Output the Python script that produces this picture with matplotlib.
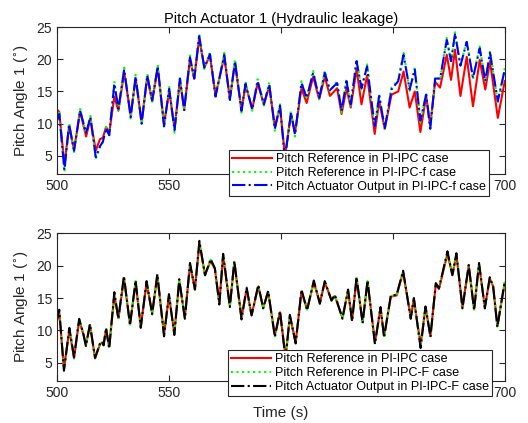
import matplotlib
matplotlib.use('Agg')
import matplotlib.pyplot as plt

plt.rcParams['font.family'] = ['Liberation Sans', 'DejaVu Sans']

# ---- top panel (hydraulic leakage) ----
t_top = [500, 501, 503.3, 505.4, 507.6, 510.3, 513, 514.9, 517.3, 519.2, 520.5, 521.9, 523.3,
         525.6, 527.4, 530, 532.9, 535.1, 537.8, 540.3, 542.5, 545, 547.8, 550.1, 552.5, 554.9,
         556.8, 559.4, 561.3, 563.5, 565.8, 568.3, 570.8, 574.7, 577.2, 579.5, 582.4, 584.2,
         587.2, 589.6, 592.4, 594.8, 597.3, 599.6, 601.8, 604.5, 606.3, 609.2, 611.5, 614.4,
         617.1, 619.6, 621.9, 625.1, 627.1, 629.3, 631.2, 633.8, 636, 638.5, 641.9, 643.9,
         646.4, 649.4, 652.4, 654.8, 657.5, 659.8, 662.3, 664.9, 666.7, 668.9, 671.1, 674.1,
         676, 677.8, 680.2, 683, 685.8, 688.8, 691.3, 693.4, 696.9, 700]
ref_ipc_top = [12.2, 11.8, 3.6, 9.6, 5.9, 11.9, 8, 10.8, 5.8, 7.6, 7.8, 9.5, 8.5,
               14.2, 12, 18, 11.3, 17, 10.3, 17.2, 13.5, 18.6, 9.9, 15.1, 9.3, 16.7,
               12.2, 20, 17, 23.3, 18.7, 20.6, 14.4, 20.4, 13.9, 19.4, 12, 16,
               12.3, 16.3, 13, 15.8, 9.5, 12.6, 5, 11.5, 8.6, 15.5, 13.2, 17.3,
               13.8, 17.3, 14.3, 15.5, 11.5, 15.5, 12.5, 18.5, 13, 17.5, 8.4, 13.5,
               9.2, 14.5, 15, 18.1, 12.5, 15, 8.7, 14.3, 9.7, 16.5, 15.6, 20.7,
               16.8, 21.5, 14.3, 20.4, 12.7, 19.9, 15.3, 19.7, 10.9, 16.6]
ref_f_top = [10.8, 11.7, 2.5, 10.1, 5.6, 12.3, 8.4, 11.2, 4.5, 6.3, 7.1, 9.5, 8,
             16.6, 12.1, 18.7, 10.8, 17.6, 9.8, 17.8, 13.4, 19.2, 9.3, 15.7, 8.6, 17.3,
             11.9, 20.6, 16.8, 23.9, 18.5, 21.1, 14, 21, 13.5, 20, 11.7, 16.5,
             12, 16.9, 12.8, 16.4, 8.9, 13, 4.2, 12, 8, 16.6, 13.8, 18.2,
             13.8, 18.2, 15, 16.6, 11.7, 16.9, 12.8, 20, 15.3, 19.2, 9.3, 14.6,
             9, 15.6, 16.8, 21, 15.1, 18.7, 10.2, 14.8, 8.9, 17.3, 16.8, 23.3,
             19.5, 24.2, 18.8, 23, 16.9, 22, 16.4, 21.3, 13.2, 18.6]
act_f_top = [10.5, 11.5, 2.8, 9.9, 5.8, 12, 8.6, 11, 4.8, 6.5, 7.2, 9.3, 8.2,
             16.2, 12.3, 18.4, 11, 17.3, 10, 17.5, 13.6, 18.9, 9.6, 15.4, 9, 17,
             12.1, 20.3, 17, 23.6, 18.7, 20.8, 14.2, 20.7, 13.7, 19.7, 12, 16.2,
             12.2, 16.6, 13, 16.1, 9.2, 12.8, 4.5, 11.7, 8.3, 16.3, 14, 17.9,
             14, 17.9, 15.2, 16.3, 12, 16.6, 13, 19.7, 15.5, 18.9, 9.6, 14.3,
             9.3, 15.3, 16.6, 20.7, 15.3, 18.4, 10.5, 14.5, 9.2, 17, 17, 23,
             19.7, 24, 19, 22.7, 17.1, 21.7, 16.6, 21, 13.5, 18.4]

# ---- bottom panel (fault tolerant) ----
t_bot = [500, 501, 503.1, 505.5, 507.6, 509.9, 511.8, 512.9, 514.7, 517, 519.2, 520.2, 520.8,
         521.9, 523.3, 525.6, 527.4, 529.9, 532.6, 535.1, 537.4, 540, 542.5, 544.8, 547.8, 550,
         552.4, 554.6, 557.1, 559.4, 561.6, 563.6, 566.1, 568.6, 570.5, 572.5, 574.2, 577.2,
         579.2, 582.4, 584.7, 586.9, 589.9, 592.1, 594.3, 597.3, 599.6, 602.1, 604, 606.6,
         609.2, 611.7, 614.7, 617.4, 619.6, 622.6, 624.1, 627.5, 630, 631.8, 633.8, 636.5,
         638.7, 642, 644.5, 646.1, 649.1, 651.7, 654.6, 658, 659.4, 662.4, 664.6, 666.8,
         669.2, 670.6, 674.4, 676.6, 678.4, 681.1, 683.9, 686.3, 688.5, 691.1, 693.3, 694.8,
         696.7, 700]
ref_ipc_bot = [12, 12.8, 4.1, 10.1, 5.7, 11.6, 9.4, 7.8, 10.8, 5.7, 7.9, 8.1, 7.8,
               10.1, 7.5, 15.4, 11.9, 18, 11, 17.4, 10.6, 17.3, 12.7, 18.4, 9.4, 15.3,
               9.6, 17.6, 12, 20.1, 16.4, 23.4, 18.6, 20.7, 19.5, 14.3, 21.5, 13.8,
               20.5, 12, 16.4, 12.4, 16.8, 13.5, 15.9, 9.3, 12.8, 6, 12.2, 8.2,
               16, 13.3, 17.4, 14.3, 17.4, 14.7, 15.3, 12, 16.1, 11.6, 18, 11.3,
               17.5, 8.2, 13.4, 9.2, 15.2, 15.4, 19, 12, 14.8, 7.8, 13.6, 9.2,
               17.1, 16.4, 21.8, 18.6, 21.6, 13.6, 19.9, 13.3, 20.2, 13.6, 18, 16.8,
               10.8, 17.3]
ref_f_bot = [11.8, 13, 3.9, 10.3, 5.8, 11.7, 9.4, 7.7, 10.9, 5.8, 8, 8.2, 7.7,
             10.3, 7.3, 15.7, 11.8, 18.2, 10.9, 17.6, 10.5, 17.5, 12.6, 18.6, 9.2, 15.5,
             9.4, 17.8, 11.9, 20.3, 16.3, 23.6, 18.5, 20.9, 19.6, 14.1, 21.7, 13.7,
             20.6, 11.8, 16.5, 12.3, 16.9, 13.4, 16, 9.1, 12.9, 5.7, 12.3, 8.1,
             16.2, 13.2, 17.6, 14.2, 17.5, 14.6, 15.4, 11.9, 16.2, 11.5, 18.1, 11.2,
             17.6, 8, 13.5, 9, 15.3, 15.5, 19.1, 11.9, 14.9, 7.5, 13.7, 9.1,
             17.2, 16.5, 22, 18.5, 21.8, 13.5, 20, 13.2, 20.3, 13.5, 18.1, 16.8,
             10.6, 17.5]
act_f_bot = [11.5, 13.2, 3.8, 10.4, 5.9, 11.8, 9.4, 7.6, 11, 5.8, 8, 8.3, 7.7,
             10.4, 7.2, 15.9, 11.8, 18.4, 10.8, 17.7, 10.4, 17.6, 12.5, 18.7, 9.1, 15.6,
             9.3, 17.9, 11.8, 20.4, 16.3, 23.8, 18.5, 21, 19.6, 14, 21.8, 13.6,
             20.7, 11.7, 16.6, 12.3, 17, 13.4, 16.1, 9, 13, 5.5, 12.4, 8,
             16.3, 13.1, 17.7, 14.1, 17.6, 14.6, 15.5, 11.8, 16.3, 11.4, 18.2, 11.1,
             17.7, 7.9, 13.6, 8.9, 15.4, 15.5, 19.2, 11.8, 15, 7.3, 13.7, 9,
             17.3, 16.5, 22.2, 18.5, 21.9, 13.4, 20.1, 13.1, 20.4, 13.4, 18.2, 16.8,
             10.5, 17.6]

labels_top = ['Pitch Reference in PI-IPC case', 'Pitch Reference in PI-IPC-f case',
              'Pitch Actuator Output in PI-IPC-f case']
labels_bot = ['Pitch Reference in PI-IPC case', 'Pitch Reference in PI-IPC-F case',
              'Pitch Actuator Output in PI-IPC-F case']
xticks = [500, 550, 600, 650, 700]
# 600 and 650 sit behind the legend in the original
xticklabels = ['500', '550', '', '', '700']

fig = plt.figure(figsize=(5.28, 4.23), dpi=100)
ax1 = fig.add_axes([0.108, 0.589, 0.848, 0.347])
ax2 = fig.add_axes([0.108, 0.099, 0.848, 0.350])

lw = 1.5
ax1.plot(t_top, ref_ipc_top, '-', color=(1, 0, 0), lw=lw, label=labels_top[0])
ax1.plot(t_top, ref_f_top, ':', color=(0, 1, 0), lw=lw, label=labels_top[1])
ax1.plot(t_top, act_f_top, '-.', color=(0, 0, 1), lw=lw, label=labels_top[2])

ax2.plot(t_bot, ref_ipc_bot, '-', color=(1, 0, 0), lw=lw, label=labels_bot[0])
ax2.plot(t_bot, ref_f_bot, ':', color=(0, 1, 0), lw=lw, label=labels_bot[1])
ax2.plot(t_bot, act_f_bot, '-.', color=(0, 0, 0), lw=lw, label=labels_bot[2])

for ax in (ax1, ax2):
    ax.set_xlim(500, 700)
    ax.set_ylim(2.2, 25)
    ax.set_xticks(xticks)
    ax.set_xticklabels(xticklabels)
    ax.set_yticks([5, 10, 15, 20, 25])
    ax.tick_params(direction='in', top=True, right=True, labelsize=10, colors='0.15', length=4)
    for s in ax.spines.values():
        s.set_color('0.15')
        s.set_linewidth(0.8)
    ax.set_ylabel('Pitch Angle 1 ($^{\\circ}$)', fontsize=11, color='0.15')

ax1.set_title('Pitch Actuator 1 (Hydraulic leakage)', fontsize=10.5, pad=3)
ax2.set_xlabel('Time (s)', fontsize=11, color='0.15')

leg_kw = dict(loc='upper right', fontsize=9, handlelength=3.2, handletextpad=0.3,
              labelspacing=0.15, borderpad=0.25, fancybox=False, framealpha=1,
              edgecolor='0.15', borderaxespad=0)
l1 = ax1.legend(bbox_to_anchor=(0.964, 0.163), **leg_kw)
l2 = ax2.legend(bbox_to_anchor=(0.971, 0.209), **leg_kw)
for l in (l1, l2):
    l.get_frame().set_linewidth(0.8)
    l.set_zorder(5)

fig.savefig('out.png', dpi=100)
